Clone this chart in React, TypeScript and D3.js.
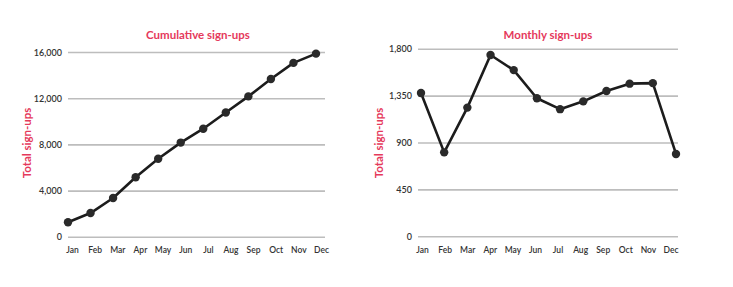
import React, { useEffect, useRef } from 'react';
import * as d3 from 'd3';

const months = ['Jan', 'Feb', 'Mar', 'Apr', 'May', 'Jun', 'Jul', 'Aug', 'Sep', 'Oct', 'Nov', 'Dec'];
const cumulative = [1300, 2100, 3400, 5200, 6800, 8200, 9400, 10800, 12200, 13700, 15100, 15900];
const monthly = [1380, 810, 1240, 1745, 1600, 1330, 1225, 1300, 1400, 1470, 1475, 795];
const cumTicks = [0, 4000, 8000, 12000, 16000];
const monTicks = [0, 450, 900, 1350, 1800];

const RED = '#e5395b';
const FONT = "'Lato', 'Noto Sans', sans-serif";

type PanelCfg = {
  title: string;
  titleX: number;
  values: number[];
  ticks: number[];
  yMax: number;
  gridX: [number, number];
  pointX: [number, number];
  labelX: [number, number];
  yTop: number;
  yBottom: number;
  axisLabelX: number;
};

const panels: PanelCfg[] = [
  {
    title: 'Cumulative sign-ups', titleX: 198, values: cumulative, ticks: cumTicks, yMax: 16000,
    gridX: [68, 325], pointX: [68, 316], labelX: [72.5, 321.5], yTop: 52.5, yBottom: 237.3, axisLabelX: 27,
  },
  {
    title: 'Monthly sign-ups', titleX: 548, values: monthly, ticks: monTicks, yMax: 1800,
    gridX: [418, 678], pointX: [421, 676], labelX: [422.5, 671], yTop: 49.3, yBottom: 236.7, axisLabelX: 379,
  },
];

export default function App() {
  const ref = useRef<SVGSVGElement>(null);

  useEffect(() => {
    const svg = d3.select(ref.current);
    svg.selectAll('*').remove();

    panels.forEach(p => {
      const g = svg.append('g');
      const y = d3.scaleLinear().domain([0, p.yMax]).range([p.yBottom, p.yTop]);
      const x = d3.scalePoint<string>().domain(months).range(p.pointX);
      const xl = d3.scalePoint<string>().domain(months).range(p.labelX);

      // gridlines
      g.selectAll('.grid').data(p.ticks).enter().append('line')
        .attr('x1', p.gridX[0]).attr('x2', p.gridX[1])
        .attr('y1', d => y(d)).attr('y2', d => y(d))
        .attr('stroke', '#bdbdbd').attr('stroke-width', 1.6);

      // tick labels
      g.selectAll('.tick').data(p.ticks).enter().append('text')
        .attr('x', p.gridX[0] - 6).attr('y', d => y(d)).attr('dy', '0.35em')
        .attr('text-anchor', 'end')
        .attr('font-family', FONT).attr('font-size', 9).attr('font-weight', 600).attr('fill', '#333')
        .text(d => d3.format(',')(d));

      // month labels
      g.selectAll('.month').data(months).enter().append('text')
        .attr('x', d => xl(d)!).attr('y', 253)
        .attr('text-anchor', 'middle')
        .attr('font-family', FONT).attr('font-size', 8.5).attr('font-weight', 600).attr('fill', '#333')
        .text(d => d);

      // title
      g.append('text')
        .attr('x', p.titleX).attr('y', 39).attr('text-anchor', 'middle')
        .attr('font-family', FONT).attr('font-size', 11.5).attr('font-weight', 700).attr('fill', RED)
        .text(p.title);

      // y axis label
      g.append('text')
        .attr('transform', `translate(${p.axisLabelX + 4},143) rotate(-90)`)
        .attr('text-anchor', 'middle')
        .attr('font-family', FONT).attr('font-size', 11.5).attr('font-weight', 700).attr('fill', RED)
        .text('Total sign-ups');

      const line = d3.line<number>().x((_, i) => x(months[i])!).y(d => y(d));
      g.append('path').datum(p.values)
        .attr('d', line).attr('fill', 'none')
        .attr('stroke', '#1c1c1c').attr('stroke-width', 2.6).attr('stroke-linejoin', 'round');

      g.selectAll('.dot').data(p.values).enter().append('circle')
        .attr('cx', (_, i) => x(months[i])!).attr('cy', d => y(d)).attr('r', 4.2)
        .attr('fill', '#2a2a2a');
    });
  }, []);

  return (
    <svg ref={ref} width={733} height={287}
      style={{ position: 'absolute', left: 0, top: 0, background: '#fff' }} />
  );
}
